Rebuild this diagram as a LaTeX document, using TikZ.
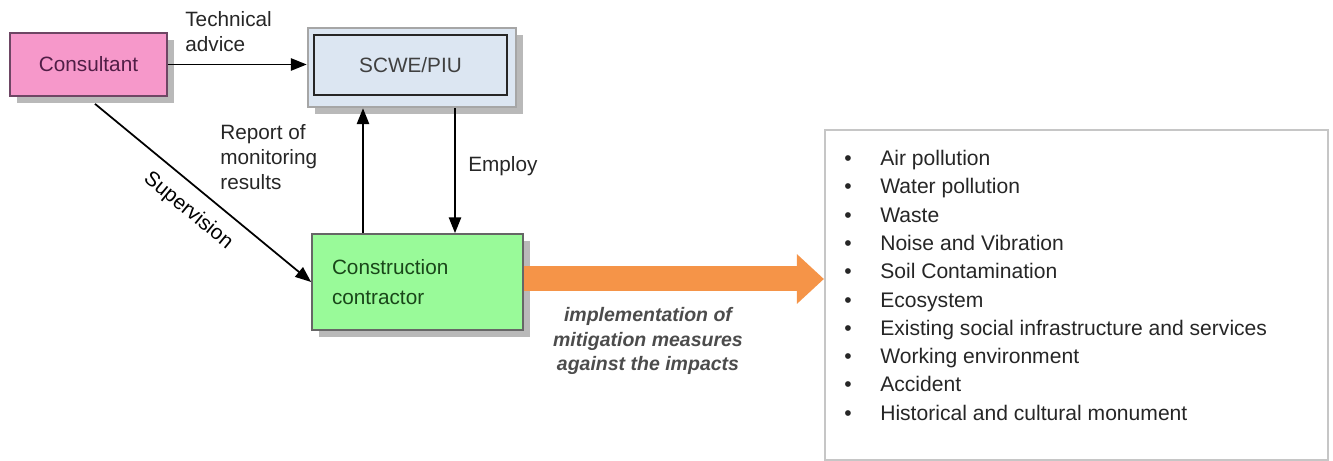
\documentclass[tikz,border=0pt]{standalone}
\usepackage{fontspec}
\setmainfont{Liberation Sans}
\usetikzlibrary{positioning,arrows.meta,shadows}

\definecolor{conspink}{RGB}{246,152,202}
\definecolor{consedge}{RGB}{110,70,100}
\definecolor{constext}{RGB}{80,30,70}
\definecolor{scweblue}{RGB}{220,230,242}
\definecolor{contrgreen}{RGB}{153,250,153}
\definecolor{contrtext}{RGB}{25,70,25}
\definecolor{implorange}{RGB}{245,148,72}

\newcommand{\impact}[1]{\makebox[0.72cm][l]{\textbullet}#1}

\begin{document}
\begin{tikzpicture}[
  boxstyle/.style={
        draw,
        rectangle,
        inner sep=0,
        font=\fontsize{11.8}{16}\selectfont,
        drop shadow={shadow xshift=4pt, shadow yshift=-4pt, fill=gray!55, opacity=1}
  },
  labelstyle/.style={
        align=left,
        inner sep=0,
        text=black!85,
        font=\fontsize{11.8}{14.2}\selectfont
  },
  link/.style={
        line width=1pt,
        -{Triangle[length=9pt, width=7pt]}
  }
]

    \useasboundingbox (0,0) rectangle (26.66,-9.22);

    \node[boxstyle, fill=conspink, draw=consedge, line width=1pt, text=constext,
          minimum width=3.14cm, minimum height=1.26cm] (Cons) at (1.77,-1.29) {Consultant};
    \node[boxstyle, fill=scweblue, draw=gray!70, line width=1.5pt,
          minimum width=4.16cm, minimum height=1.58cm] (SCWE) at (8.24,-1.35) {};
    \node[rectangle, draw=black!85, line width=1.6pt, fill=scweblue, text=black!75,
          font=\fontsize{11.8}{16}\selectfont,
          minimum width=3.86cm, minimum height=1.2cm] (SCWE_in) at (8.21,-1.30) {SCWE/PIU};
    \node[boxstyle, fill=contrgreen, draw=black!60, line width=1pt, text=contrtext,
          align=left, text width=3.42cm, inner xsep=0.4cm, minimum height=1.92cm,
          font=\fontsize{11.8}{17}\selectfont] (Contr) at (8.35,-5.64) {Construction\\contractor};
    \node[rectangle, draw=gray!45, line width=1.2pt,
          minimum width=10.06cm, minimum height=6.6cm] (Impacts) at (21.53,-5.9) {};

    \node[labelstyle, anchor=north west, text=black!85, font=\fontsize{12}{16.1}\selectfont]
        (Impact_list) at ([xshift=0.4cm, yshift=-0.42cm]Impacts.north west) {%
        \impact{Air pollution}\\
        \impact{Water pollution}\\
        \impact{Waste}\\
        \impact{Noise and Vibration}\\
        \impact{Soil Contamination}\\
        \impact{Ecosystem}\\
        \impact{Existing social infrastructure and services}\\
        \impact{Working environment}\\
        \impact{Accident}\\
        \impact{Historical and cultural monument}};

    \node[labelstyle, anchor=west] (L_advice) at (3.7,-0.63) {Technical\\advice};
    \node[labelstyle, anchor=west] (L_report) at (4.4,-3.14) {Report of\\monitoring\\results};
    \node[labelstyle, anchor=west] (L_employ) at (9.36,-3.32) {Employ};
    \node[align=center, text=black!70, font=\fontsize{11.1}{14.2}\selectfont\bfseries\itshape]
        (L_measures) at (12.96,-6.82) {implementation of\\mitigation measures\\against the impacts};

    \draw[link] (Cons.east) -- (Cons.east -| SCWE.west);
    \draw[link] ([xshift=0.13cm, yshift=-0.14cm]Cons.south) -- (Contr.west)
        node[midway, sloped, below=4pt, font=\fontsize{11.8}{14}\selectfont] (L_super) {Supervision};
    \draw[link] ([xshift=-1.09cm]Contr.north) -- ([xshift=-1.09cm]Contr.north |- SCWE.south);
    \draw[link] ([xshift=0.75cm]Contr.north |- SCWE.south) -- ([xshift=0.75cm]Contr.north);
    \draw[implorange, line width=0.5cm, -{Triangle[length=0.54cm, width=0.96cm]}]
        ([yshift=0.06cm]Contr.east) -- ([yshift=0.06cm]Contr.east -| Impacts.west);
\end{tikzpicture}
\end{document}
